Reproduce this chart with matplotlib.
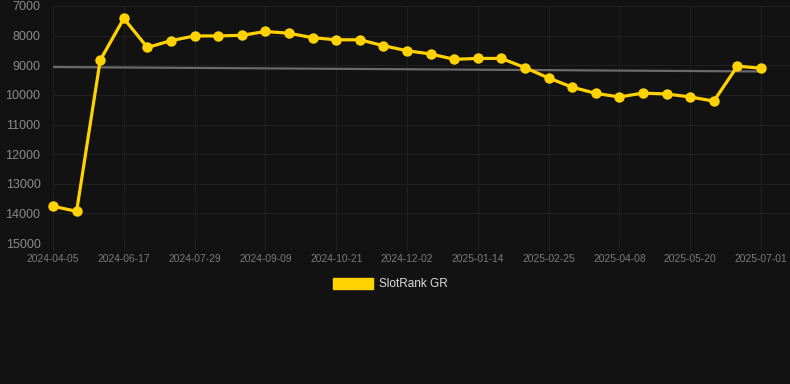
import matplotlib.pyplot as plt
from matplotlib.patches import Patch
import numpy as np

plt.rcParams["font.family"] = ["Liberation Sans", "DejaVu Sans"]

# rank values, one point every two weeks (lower rank = better, axis inverted)
rank = [13760, 13930, 8830, 7420, 8400, 8170, 8010, 8010, 7990, 7860,
        7920, 8070, 8140, 8140, 8340, 8510, 8620, 8800, 8770, 8770,
        9080, 9430, 9740, 9950, 10070, 9940, 9970, 10070, 10210, 9030,
        9100]
tick_labels = ["2024-04-05", "2024-06-17", "2024-07-29", "2024-09-09",
               "2024-10-21", "2024-12-02", "2025-01-14", "2025-02-25",
               "2025-04-08", "2025-05-20", "2025-07-01"]
trend = [9060, 9210]

bg = "#121212"
yellow = "#FFD200"

fig = plt.figure(figsize=(7.9, 3.84), dpi=100, facecolor=bg)
ax = fig.add_axes([53 / 790, 1 - 243 / 384, 1 - 53 / 790, (243 - 6) / 384])
ax.set_facecolor(bg)

x = np.arange(len(rank))
ax.plot([x[0], x[-1]], trend, color="#6a6a6a", lw=1.6, zorder=2)
ax.plot(x, rank, color=yellow, lw=2.3, marker="o", ms=7.5,
        markeredgewidth=0, zorder=3, clip_on=False)

ax.set_ylim(15000, 7000)
ax.set_yticks(np.arange(7000, 15001, 1000))
ax.set_xlim(0, len(rank) - 1 + 29 / 23.6)
ax.set_xticks(x[::3])
ax.set_xticklabels(tick_labels)

ax.grid(True, color="#1f1f1f", lw=0.8)
for s in ax.spines.values():
    s.set_visible(False)
ax.tick_params(axis="y", length=0, pad=9, labelsize=9, labelcolor="#8a8a8a")
ax.tick_params(axis="x", length=5, color="#222222", pad=3, labelsize=7.4,
               labelcolor="#7a7a7a")

ax.legend(handles=[Patch(color=yellow, label="SlotRank GR")],
          loc="center", bbox_to_anchor=(0.494, 1 - 284 / 384),
          bbox_transform=fig.transFigure, frameon=False,
          handlelength=3.4, handleheight=1.1, handletextpad=0.5,
          fontsize=8.5, labelcolor="#dddddd")

fig.savefig("out.png", dpi=100, facecolor=bg)
